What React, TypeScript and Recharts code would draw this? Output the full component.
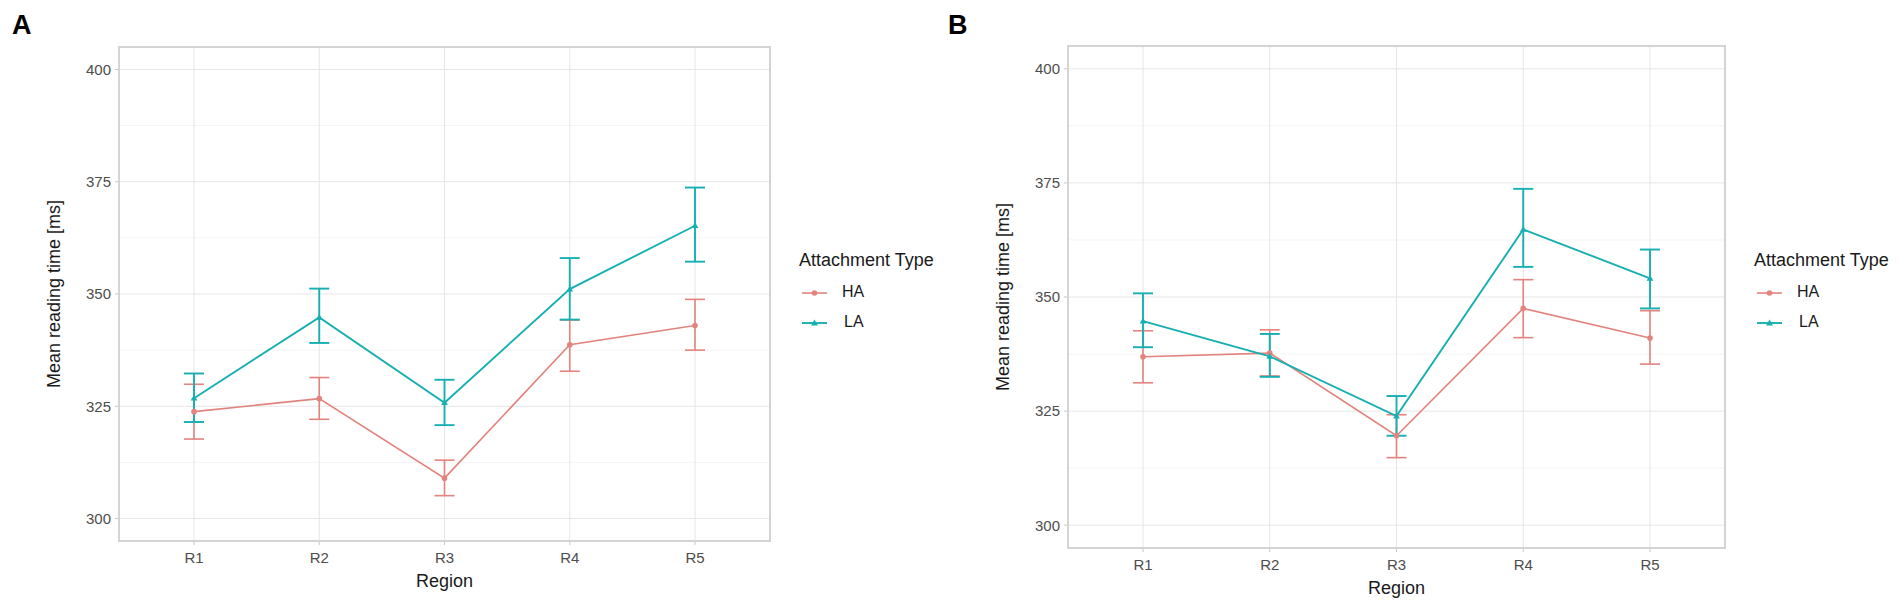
import * as React from "react";
import { LineChart, Line, XAxis, YAxis, CartesianGrid, ErrorBar } from "recharts";

// regions on the x axis
const regions = ["R1", "R2", "R3", "R4", "R5"];

// panel A: means and error-bar bounds (ms)
const haMeanA = [323.8, 326.7, 309.0, 338.7, 343.0];
const haLowA = [317.7, 322.1, 305.1, 332.8, 337.5];
const haHighA = [329.9, 331.4, 313.0, 344.2, 348.8];
const laMeanA = [326.8, 344.8, 325.8, 351.1, 365.2];
const laLowA = [321.5, 339.1, 320.8, 344.3, 357.2];
const laHighA = [332.3, 351.2, 330.9, 358.0, 373.7];

// panel B
const haMeanB = [336.9, 337.7, 319.6, 347.5, 341.0];
const haLowB = [331.2, 332.7, 314.8, 341.1, 335.3];
const haHighB = [342.6, 342.8, 324.2, 353.8, 347.0];
const laMeanB = [344.7, 337.0, 323.9, 364.8, 354.1];
const laLowB = [339.0, 332.5, 319.6, 356.6, 347.5];
const laHighB = [350.8, 341.9, 328.3, 373.7, 360.4];

const yTicks = [300, 325, 350, 375, 400];
const yMinor = [312.5, 337.5, 362.5, 387.5];

const HA = "#E2837E";
const LA = "#17AFB2";
const FONT = "'Liberation Sans', Arial, sans-serif";

const build = (hm: number[], hl: number[], hh: number[], lm: number[], ll: number[], lh: number[]) =>
  regions.map((r, i) => ({
    region: r,
    ha: hm[i],
    haErr: [hm[i] - hl[i], hh[i] - hm[i]],
    la: lm[i],
    laErr: [lm[i] - ll[i], lh[i] - lm[i]],
  }));

const dataA = build(haMeanA, haLowA, haHighA, laMeanA, laLowA, laHighA);
const dataB = build(haMeanB, haLowB, haHighB, laMeanB, laLowB, laHighB);

const CircleDot = (props: any) => {
  const { cx, cy } = props;
  if (cx == null || cy == null) return null;
  return <circle cx={cx} cy={cy} r={2.8} fill={HA} />;
};

const TriDot = (props: any) => {
  const { cx, cy } = props;
  if (cx == null || cy == null) return null;
  const s = 3.4;
  return <path d={`M${cx},${cy - s} L${cx + s},${cy + s * 0.7} L${cx - s},${cy + s * 0.7} Z`} fill={LA} />;
};

type PanelProps = {
  data: any[];
  letter: string;
  chartLeft: number;
  width: number;
  plotLeft: number;
  plotRight: number;
  plotTop: number;
  plotBottom: number;
  letterX: number;
};

const Panel = ({ data, letter, chartLeft, width, plotLeft, plotRight, plotTop, plotBottom, letterX }: PanelProps) => {
  const yAxisW = 60;
  const xAxisH = 30;
  const margin = {
    top: plotTop,
    left: plotLeft - chartLeft - yAxisW,
    right: chartLeft + width - plotRight,
    bottom: 604 - plotBottom - xAxisH,
  };
  const midY = (plotTop + plotBottom) / 2;
  const midX = (plotLeft + plotRight) / 2;
  const legendX = plotRight + 32;
  return (
    <>
      <div style={{ position: "absolute", left: chartLeft, top: 0 }}>
        <LineChart width={width} height={604} data={data} margin={margin}>
          <CartesianGrid horizontalValues={yMinor} vertical={false} stroke="#f4f4f4" strokeWidth={1} />
          <CartesianGrid horizontalValues={yTicks} stroke="#e6e6e6" strokeWidth={1} />
          <XAxis
            dataKey="region"
            height={xAxisH}
            padding={{ left: 75, right: 75 }}
            axisLine={false}
            tickLine={{ stroke: "#c8c8c8" }}
            tickSize={4}
            tickMargin={7}
            tick={{ fontSize: 15, fill: "#4d4d4d", fontFamily: FONT }}
          />
          <YAxis
            width={yAxisW}
            domain={[295, 405]}
            ticks={yTicks}
            allowDataOverflow
            axisLine={false}
            tickLine={{ stroke: "#c8c8c8" }}
            tickSize={4}
            tickMargin={4}
            tick={{ fontSize: 15, fill: "#4d4d4d", fontFamily: FONT }}
          />
          <Line dataKey="ha" stroke={HA} strokeWidth={1.6} dot={<CircleDot />} activeDot={false} isAnimationActive={false}>
            <ErrorBar dataKey="haErr" width={10} stroke={HA} strokeWidth={1.6} direction="y" isAnimationActive={false} />
          </Line>
          <Line dataKey="la" stroke={LA} strokeWidth={1.9} dot={<TriDot />} activeDot={false} isAnimationActive={false}>
            <ErrorBar dataKey="laErr" width={10} stroke={LA} strokeWidth={1.9} direction="y" isAnimationActive={false} />
          </Line>
        </LineChart>
      </div>
      {/* panel border */}
      <div
        style={{
          position: "absolute",
          left: plotLeft - 1,
          top: plotTop - 1,
          width: plotRight - plotLeft + 2,
          height: plotBottom - plotTop + 2,
          border: "2px solid #d4d4d4",
          boxSizing: "border-box",
          pointerEvents: "none",
        }}
      />
      <div style={{ position: "absolute", left: letterX, top: 10, fontSize: 27, fontWeight: 700, fontFamily: FONT, color: "#000" }}>
        {letter}
      </div>
      <div
        style={{
          position: "absolute",
          left: plotLeft - 65,
          top: midY,
          transform: "translate(-50%, -50%) rotate(-90deg)",
          whiteSpace: "nowrap",
          fontSize: 18,
          fontFamily: FONT,
          color: "#1a1a1a",
        }}
      >
        Mean reading time [ms]
      </div>
      <div
        style={{
          position: "absolute",
          left: midX,
          top: plotBottom + 40,
          transform: "translate(-50%, -50%)",
          fontSize: 18,
          fontFamily: FONT,
          color: "#1a1a1a",
        }}
      >
        Region
      </div>
      {/* legend */}
      <div style={{ position: "absolute", left: legendX - 3, top: 250, fontSize: 18, fontFamily: FONT, color: "#1a1a1a", whiteSpace: "nowrap" }}>
        Attachment Type
      </div>
      <svg style={{ position: "absolute", left: legendX, top: 282 }} width={30} height={50}>
        <line x1={0} y1={11} x2={25} y2={11} stroke={HA} strokeWidth={1.6} />
        <circle cx={12.5} cy={11} r={2.8} fill={HA} />
        <line x1={0} y1={41} x2={25} y2={41} stroke={LA} strokeWidth={1.9} />
        <path d="M12.5,37.6 L15.9,43.4 L9.1,43.4 Z" fill={LA} />
      </svg>
      <div style={{ position: "absolute", left: legendX + 40, top: 283, fontSize: 16, fontFamily: FONT, color: "#1a1a1a" }}>HA</div>
      <div style={{ position: "absolute", left: legendX + 42, top: 313, fontSize: 16, fontFamily: FONT, color: "#1a1a1a" }}>LA</div>
    </>
  );
};

export default function App() {
  return (
    <div style={{ position: "absolute", left: 0, top: 0, width: 1904, height: 604, background: "#fff", overflow: "hidden" }}>
      <Panel data={dataA} letter="A" chartLeft={0} width={800} plotLeft={119} plotRight={770} plotTop={47} plotBottom={541} letterX={12} />
      <Panel data={dataB} letter="B" chartLeft={980} width={780} plotLeft={1068} plotRight={1725} plotTop={46} plotBottom={548} letterX={948} />
    </div>
  );
}
